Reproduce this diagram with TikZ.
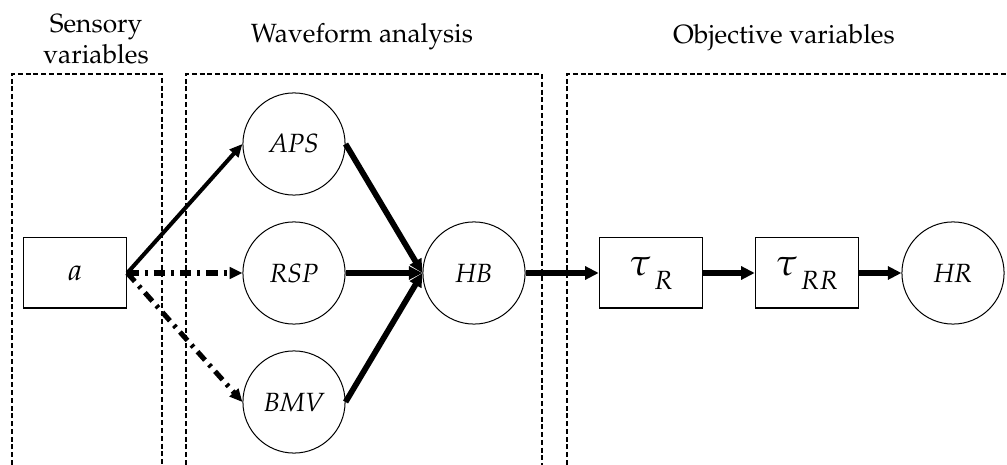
\documentclass[tikz,border=0pt]{standalone}
\usepackage[T1]{fontenc}
\usepackage{mathpazo}
\usetikzlibrary{arrows.meta}
\newcommand{\tsub}[1]{$\tau$\kern1.2pt\raisebox{-5.5pt}{\fontsize{10.5}{12}\selectfont$#1$}}
\begin{document}
\begin{tikzpicture}[x=0.14mm,y=-0.14mm,
        var/.style={circle,draw,thin,minimum size=14.3mm,inner sep=0pt,
            font=\fontsize{10.5}{12}\selectfont\itshape},
        blk/.style={rectangle,draw,thin,minimum width=14.5mm,minimum height=9.8mm,
            inner sep=0pt,font=\fontsize{10.5}{12}\selectfont},
        grp/.style={line width=0.6pt,dash pattern=on 2pt off 1.1pt},
        ttl/.style={align=center,font=\fontsize{10.5}{12.5}\selectfont},
        flow/.style={line width=2.3pt,-{Triangle[length=1.9mm,width=1.8mm]}},
        link/.style={line width=1.6pt,-{Triangle[length=1.8mm,width=1.6mm]}},
        maybe/.style={link,line width=2pt,dash pattern=on 4.5pt off 2.4pt on 1.2pt off 2.4pt}]
\useasboundingbox (0,0) rectangle (1007,465);

% groups
\draw[grp] (12,465) -- (12,74) -- (162,74) -- (162,465);
\draw[grp] (186,465) -- (186,74) -- (542,74) -- (542,465);
\draw[grp] (567,465) -- (567,74) -- (1010,74);
\node[ttl] (tsens) at (96,39) {Sensory\\variables};
\node[ttl] (twave) at (362,37) {Waveform analysis};
\node[ttl] (tobj) at (784,38) {Objective variables};

% nodes
\node[blk,font=\fontsize{12}{14}\selectfont] (a) at (75,273) {$a$};
\node[var] (aps) at (294,144) {APS};
\node[var] (rsp) at (294,273) {RSP};
\node[var] (bmv) at (294,402) {BMV};
\node[var] (hb) at (474,273) {HB};
\node[blk,font=\fontsize{15}{16}\selectfont] (tr) at (651,273) {\tsub{R}};
\node[blk,font=\fontsize{15}{16}\selectfont] (trr) at (807,273) {\tsub{RR}};
\node[var] (hr) at (953,273) {HR};

% connectors
\draw[link] (a.east) -- (aps.west);
\draw[maybe] (a.east) -- (rsp.west);
\draw[maybe] (a.east) -- (bmv.west);
\draw[flow] (aps.east) -- (hb.west);
\draw[flow] (rsp.east) -- (hb.west);
\draw[flow] (bmv.east) -- (hb.west);
\draw[flow] (hb.east) -- (tr.west);
\draw[flow] (tr.east) -- (trr.west);
\draw[flow] (trr.east) -- (hr.west);

\end{tikzpicture}
\end{document}
